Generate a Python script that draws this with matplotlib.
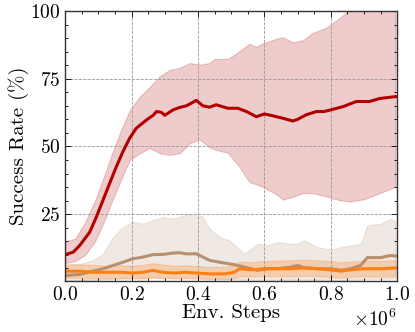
import matplotlib
matplotlib.use('Agg')
import matplotlib.pyplot as plt
from matplotlib.ticker import MultipleLocator
import numpy as np

plt.rcParams['font.family'] = 'serif'
plt.rcParams['font.serif'] = ['cmr10']
plt.rcParams['mathtext.fontset'] = 'cm'
plt.rcParams['axes.formatter.use_mathtext'] = True

# red run (mean and band), x in millions of steps
red_x = [0.0, 0.024, 0.044, 0.074, 0.094, 0.114, 0.134, 0.154, 0.174, 0.194, 0.214,
         0.245, 0.265, 0.275, 0.29, 0.30, 0.325, 0.345, 0.365, 0.395, 0.415, 0.435,
         0.455, 0.49, 0.52, 0.546, 0.576, 0.60, 0.626, 0.656, 0.686, 0.70, 0.726,
         0.757, 0.78, 0.80, 0.837, 0.877, 0.917, 0.947, 0.995]
red_mean = [10.1, 11.0, 13.5, 18.4, 24.0, 30.2, 36.4, 42.5, 48.1, 53.0, 56.7,
            59.8, 61.5, 62.9, 62.6, 61.5, 63.5, 64.4, 65.0, 67.0, 65.0, 64.5,
            65.4, 64.1, 64.1, 62.9, 61.0, 62.0, 61.3, 60.4, 59.4, 60.0, 61.7,
            62.9, 62.9, 63.5, 64.7, 66.6, 66.6, 67.7, 68.4]
red_up_x = [0.0, 0.03, 0.06, 0.09, 0.12, 0.14, 0.165, 0.195, 0.225, 0.255, 0.285,
            0.315, 0.345, 0.375, 0.405, 0.435, 0.45, 0.49, 0.525, 0.555, 0.575,
            0.595, 0.635, 0.656, 0.686, 0.716, 0.746, 0.786, 0.80, 0.827, 0.857,
            0.9, 0.995]
red_up = [15.0, 16.0, 22.0, 30.0, 40.0, 47.0, 55.0, 63.5, 68.4, 72.0, 75.9,
          78.3, 79.0, 80.8, 80.2, 80.8, 82.3, 82.3, 85.1, 88.0, 86.7,
          88.0, 89.7, 90.3, 88.4, 89.2, 91.9, 93.8, 95.0, 97.5, 100.5,
          104.0, 108.0]
red_lo_x = [0.0, 0.044, 0.074, 0.104, 0.134, 0.164, 0.184, 0.204, 0.245, 0.27,
            0.285, 0.315, 0.345, 0.355, 0.385, 0.40, 0.415, 0.455, 0.495, 0.525,
            0.55, 0.585, 0.626, 0.656, 0.686, 0.726, 0.776, 0.817, 0.852, 0.887,
            0.937, 0.977, 0.995]
red_lo = [7.0, 8.0, 11.7, 17.9, 27.7, 36.4, 43.8, 46.2, 48.7, 50.6,
          47.5, 46.9, 47.5, 49.9, 51.8, 53.6, 50.6, 48.7, 47.5, 42.5,
          37.0, 35.7, 33.3, 30.4, 31.4, 33.3, 32.0, 30.4, 29.6, 30.2,
          31.4, 33.9, 35.1]

# brown run
brown_x = [0.0, 0.044, 0.084, 0.114, 0.144, 0.174, 0.204, 0.234, 0.264, 0.295,
           0.325, 0.345, 0.365, 0.395, 0.415, 0.435, 0.465, 0.495, 0.51, 0.54,
           0.58, 0.61, 0.64, 0.68, 0.70, 0.72, 0.76, 0.80, 0.83, 0.86, 0.89,
           0.91, 0.95, 0.98, 0.995]
brown_mean = [2.4, 2.8, 4.0, 4.9, 6.1, 7.3, 8.6, 9.2, 10.1, 10.2,
              10.7, 10.8, 10.4, 10.4, 9.2, 8.0, 7.3, 6.7, 6.4, 5.5,
              4.3, 4.9, 4.9, 5.5, 6.1, 5.3, 4.9, 4.9, 4.3, 4.9, 6.1,
              9.0, 9.0, 9.8, 9.6]
brown_up = [6.7, 6.7, 8.0, 10.4, 16.6, 20.3, 22.2, 21.5, 22.8, 24.0,
            23.4, 24.0, 25.0, 25.3, 24.0, 19.7, 16.6, 15.4, 13.5, 10.4,
            14.1, 13.5, 14.7, 14.1, 14.1, 15.4, 12.9, 11.9, 12.9, 13.5, 14.1,
            20.9, 21.5, 23.4, 22.2]
brown_lo = [0.6, 0.6, 0.8, 1.0, 1.2, 1.3, 1.5, 1.5, 1.6, 1.6,
            1.6, 1.6, 1.6, 1.5, 1.4, 1.3, 1.2, 1.1, 1.0, 0.9,
            0.8, 0.8, 0.8, 0.9, 0.9, 0.8, 0.8, 0.8, 0.7, 0.8, 0.9,
            1.2, 1.2, 1.3, 1.3]

# orange run
orange_x = [0.0, 0.044, 0.084, 0.13, 0.17, 0.204, 0.234, 0.264, 0.295, 0.33,
            0.36, 0.395, 0.435, 0.48, 0.51, 0.525, 0.56, 0.60, 0.64, 0.68,
            0.72, 0.76, 0.80, 0.83, 0.86, 0.90, 0.95, 0.995]
orange_mean = [4.0, 4.0, 3.6, 3.6, 3.6, 3.3, 3.6, 4.3, 3.6, 3.3,
               3.6, 3.3, 3.0, 3.0, 3.6, 4.9, 4.5, 4.9, 4.9, 4.9,
               5.2, 4.9, 4.5, 4.0, 4.5, 4.9, 4.9, 5.2]
orange_up = [6.2, 6.5, 6.3, 6.0, 6.2, 6.0, 6.3, 7.0, 6.4, 6.0,
             6.2, 5.9, 5.6, 5.6, 6.3, 7.5, 7.3, 7.8, 7.9, 8.0,
             8.3, 8.0, 7.8, 7.2, 7.6, 7.9, 7.8, 8.0]
orange_lo = [1.6, 1.5, 1.3, 1.4, 1.3, 1.2, 1.3, 1.8, 1.4, 1.2,
             1.3, 1.2, 1.0, 1.0, 1.3, 2.2, 2.0, 2.2, 2.1, 2.1,
             2.3, 2.1, 1.8, 1.6, 1.9, 2.1, 2.0, 2.2]

red_c = '#b20000'
brown_c = '#b8906f'
orange_c = '#ff7f15'

fig = plt.figure(figsize=(4.15, 3.32), dpi=100)
ax = fig.add_axes([0.157, 0.153, 0.8, 0.814])

def steps(v):
    return np.array(v) * 1e6

ax.fill_between(steps(red_up_x), red_up, np.interp(red_up_x, red_lo_x, red_lo),
                color=red_c, alpha=0.2, lw=0.8)
ax.fill_between(steps(brown_x), brown_up, brown_lo, color=brown_c, alpha=0.2, lw=0.8)
ax.fill_between(steps(orange_x), orange_up, orange_lo, color=orange_c, alpha=0.25, lw=0.8)
ax.plot(steps(brown_x), brown_mean, color=brown_c, lw=2.2)
ax.plot(steps(orange_x), orange_mean, color=orange_c, lw=2.2)
ax.plot(steps(red_x), red_mean, color=red_c, lw=2.2)

ax.set_xlim(0, 1e6)
ax.set_ylim(0.3, 100)
ax.set_yticks([25, 50, 75, 100])
ax.xaxis.set_major_locator(MultipleLocator(2e5))
ax.xaxis.set_minor_locator(MultipleLocator(5e4))
ax.yaxis.set_minor_locator(MultipleLocator(5))
ax.ticklabel_format(axis='x', style='sci', scilimits=(0, 0))
ax.tick_params(which='both', direction='in', top=True, right=True, labelsize=14, width=0.6)
ax.tick_params(which='major', length=4)
ax.tick_params(which='minor', length=2)
ax.xaxis.get_offset_text().set_fontsize(14)
ax.grid(True, which='major', ls='--', lw=0.6, color='#999999')
for s in ax.spines.values():
    s.set_linewidth(1.0)
    s.set_color('#333333')

ax.set_xlabel('Env. Steps', fontsize=15, labelpad=0)
ax.set_ylabel('Success Rate (%)', fontsize=15, labelpad=1)

fig.savefig('out.png', dpi=100)
